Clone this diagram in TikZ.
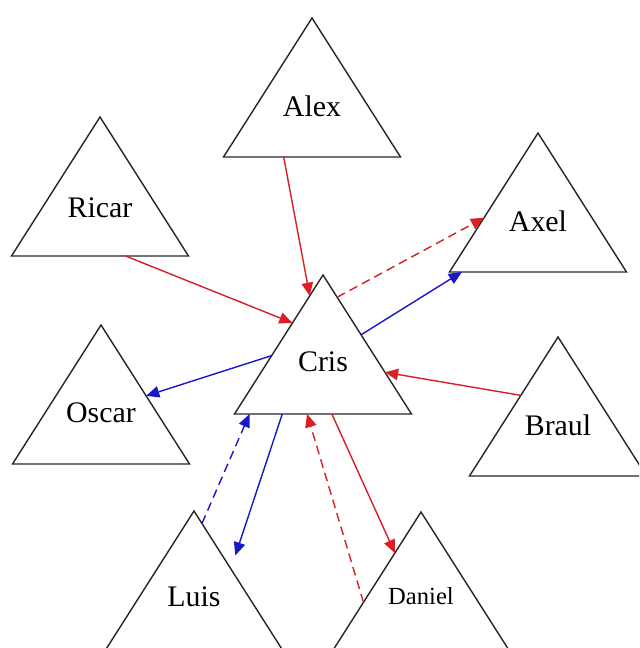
\documentclass[tikz,border=0pt]{standalone}
\usepackage{fontspec}
\setmainfont{Liberation Serif}
\usetikzlibrary{shapes.geometric,arrows.meta,calc}
\definecolor{linkred}{RGB}{218,30,40}
\definecolor{linkblue}{RGB}{24,24,200}
\tikzset{
  person/.style={draw=black!85, line width=0.8pt, isosceles triangle,
    shape border rotate=90, isosceles triangle stretches,
    minimum width=3.54cm, minimum height=2.78cm,
    inner sep=0pt, outer sep=0pt, anchor=apex,
    text height=0.45cm, text depth=0.48cm,
    font=\fontsize{17}{20}\selectfont},
  link/.style={line width=0.8pt, -{Triangle[length=7.5pt,width=6.5pt]}},
  redlink/.style={link, linkred},
  bluelink/.style={link, linkblue},
  dashlink/.style={dash pattern=on 5pt off 3pt}
}
\begin{document}
\begin{tikzpicture}[x=0.02cm, y=-0.02cm]
  \useasboundingbox (0,0) rectangle (639,648);
  \clip (0,0) rectangle (639,648);
  % people
  \node[person] (alex) at (312,18) {Alex};
  \node[person] (ricar) at (100,117) {Ricar};
  \node[person] (axel) at (538,133) {Axel};
  \node[person] (cris) at (323,275) {Cris};
  \node[person, text depth=0.6cm] (oscar) at (101,325) {Oscar};
  \node[person, text depth=0.54cm] (braul) at (558,337) {Braul};
  \node[person, text depth=0.52cm] (luis) at (194,511) {Luis};
  \node[person, text depth=0.72cm, font=\fontsize{14}{17}\selectfont] (daniel) at (421,512) {Daniel};
  % links
  \draw[redlink] ($(alex.left corner)!0.34!(alex.right corner)$) -- ($(cris.apex)!0.15!(cris.left corner)$);
  \draw[redlink] ($(ricar.left corner)!0.644!(ricar.right corner)$) -- ($(cris.apex)!0.345!(cris.left corner)$);
  \draw[redlink, dashlink] ($(cris.apex)!0.16!(cris.right corner)$) -- ($(axel.apex)!0.61!(axel.left corner)$);
  \draw[bluelink] ($(cris.apex)!0.43!(cris.right corner)$) -- ($(axel.left corner)!0.07!(axel.right corner)$);
  \draw[bluelink] ($(cris.apex)!0.58!(cris.left corner)$) -- ($(oscar.apex)!0.51!(oscar.right corner)$);
  \draw[redlink] ($(braul.apex)!0.42!(braul.left corner)$) -- ($(cris.apex)!0.70!(cris.right corner)$);
  \draw[bluelink, dashlink] ($(luis.apex)!0.09!(luis.right corner)$) -- ($(cris.left corner)!0.085!(cris.right corner)$);
  \draw[bluelink] ($(cris.left corner)!0.27!(cris.right corner)$) -- ($(luis.apex)!0.32!(luis.right corner)+(13,0)$);
  \draw[redlink, dashlink] ($(daniel.apex)!0.65!(daniel.left corner)$) -- ($(cris.left corner)!0.41!(cris.right corner)$);
  \draw[redlink] ($(cris.left corner)!0.55!(cris.right corner)$) -- ($(daniel.apex)!0.295!(daniel.left corner)$);
\end{tikzpicture}
\end{document}
